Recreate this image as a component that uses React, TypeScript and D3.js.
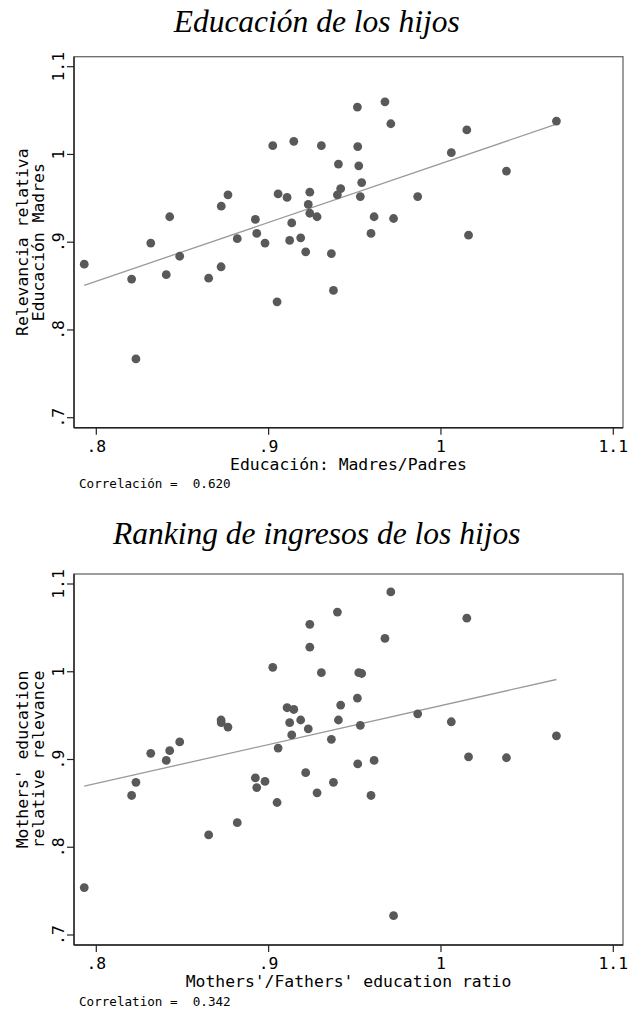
import React from 'react';
import * as d3 from 'd3';

// Mothers'/Fathers' education ratio (same countries in both panels)
const ratio = [
  0.793, 0.8205, 0.823, 0.8316, 0.8406, 0.8426, 0.8484, 0.8652, 0.8724, 0.8725,
  0.8764, 0.8818, 0.8923, 0.8931, 0.8979, 0.9024, 0.9049, 0.9055, 0.9107, 0.9122,
  0.9134, 0.9146, 0.9186, 0.9215, 0.923, 0.9239, 0.9239, 0.9281, 0.9306, 0.9364,
  0.9376, 0.9405, 0.9418, 0.9399, 0.9515, 0.9517, 0.9523, 0.954, 0.9532, 0.9594,
  0.9612, 0.9675, 0.9709, 0.9725, 0.9865, 1.006, 1.015, 1.016, 1.038, 1.067,
];

// relevancia relativa, educación de los hijos
const eduRelevance = [
  0.875, 0.858, 0.767, 0.899, 0.863, 0.929, 0.884, 0.859, 0.872, 0.941,
  0.954, 0.904, 0.926, 0.91, 0.899, 1.01, 0.832, 0.955, 0.951, 0.902,
  0.922, 1.015, 0.905, 0.889, 0.943, 0.957, 0.933, 0.929, 1.01, 0.887,
  0.845, 0.989, 0.961, 0.954, 1.054, 1.009, 0.987, 0.968, 0.952, 0.91,
  0.929, 1.06, 1.035, 0.927, 0.952, 1.002, 1.028, 0.908, 0.981, 1.038,
];

// relative relevance, income ranking of the children
const incomeRelevance = [
  0.754, 0.859, 0.874, 0.907, 0.899, 0.91, 0.92, 0.814, 0.945, 0.942,
  0.937, 0.828, 0.879, 0.868, 0.875, 1.005, 0.851, 0.913, 0.959, 0.942,
  0.928, 0.957, 0.945, 0.885, 0.935, 1.054, 1.028, 0.862, 0.999, 0.923,
  0.874, 0.945, 0.962, 1.068, 0.97, 0.895, 0.999, 0.998, 0.939, 0.859,
  0.899, 1.038, 1.091, 0.722, 0.952, 0.943, 1.061, 0.903, 0.902, 0.927,
];

const xTicks = [0.8, 0.9, 1, 1.1];
const yTicks = [0.7, 0.8, 0.9, 1, 1.1];

const fmt = (v: number) => (v < 1 ? String(v).replace(/^0/, '') : String(v));

const MONO = '"DejaVu Sans Mono", monospace';
const SERIF = '"Liberation Serif", "Times New Roman", serif';

const plotLeft = 74;
const plotRight = 623;
const plotH = 371;

interface PanelProps {
  title: string;
  titleY: number;
  plotTop: number;
  yLines: string[];
  xLabel: string;
  corr: string;
  xs: number[];
  ys: number[];
}

function Panel({ title, titleY, plotTop, yLines, xLabel, corr, xs, ys }: PanelProps) {
  const plotBottom = plotTop + plotH;
  const x = d3.scaleLinear().domain([0.8, 1.1]).range([96.3, 613.3]);
  const y = d3.scaleLinear().domain([0.7, 1.1]).range([plotBottom - 10, plotTop + 10]);

  // OLS fit
  const mx = d3.mean(xs)!;
  const my = d3.mean(ys)!;
  const sxy = d3.sum(xs, (v, i) => (v - mx) * (ys[i] - my));
  const sxx = d3.sum(xs, v => (v - mx) ** 2);
  const b = sxy / sxx;
  const a = my - b * mx;
  const [x0, x1] = d3.extent(xs) as [number, number];
  const midY = (plotTop + plotBottom) / 2;

  return (
    <g>
      <text x={316.7} y={titleY} textAnchor="middle" fontFamily={SERIF} fontStyle="italic" fontSize={31.5} fill="#000">
        {title}
      </text>
      <rect x={plotLeft} y={plotTop} width={plotRight - plotLeft} height={plotH} fill="#fff" stroke="#6a6a6a" strokeWidth={1.3} />
      <line x1={plotLeft} x2={plotLeft} y1={plotTop} y2={plotBottom} stroke="#222" strokeWidth={1.4} />
      <line x1={plotLeft} x2={plotRight} y1={plotBottom} y2={plotBottom} stroke="#222" strokeWidth={1.4} />

      {yTicks.map(t => (
        <g key={'y' + t}>
          <line x1={plotLeft - 7} x2={plotLeft} y1={y(t)} y2={y(t)} stroke="#222" strokeWidth={1.2} />
          <text transform={`translate(63.5,${y(t)}) rotate(-90)`} textAnchor="middle" fontFamily={MONO} fontSize={16.4} fill="#000">
            {fmt(t)}
          </text>
        </g>
      ))}
      {xTicks.map(t => (
        <g key={'x' + t}>
          <line x1={x(t)} x2={x(t)} y1={plotBottom} y2={plotBottom + 7} stroke="#222" strokeWidth={1.2} />
          <text x={x(t)} y={plotBottom + 24.3} textAnchor="middle" fontFamily={MONO} fontSize={16.4} fill="#000">
            {fmt(t)}
          </text>
        </g>
      ))}

      {yLines.map((l, i) => (
        <text key={l} transform={`translate(${27.5 + i * 16.5},${midY}) rotate(-90)`} textAnchor="middle" fontFamily={MONO} fontSize={16.4} fill="#000">
          {l}
        </text>
      ))}
      <text x={(plotLeft + plotRight) / 2} y={plotBottom + 42} textAnchor="middle" fontFamily={MONO} fontSize={16.4} fill="#000">
        {xLabel}
      </text>
      <text x={79} y={plotBottom + 60.5} fontFamily={MONO} fontSize={12.6} fill="#000" style={{ whiteSpace: 'pre' }}>
        {corr}
      </text>

      <line x1={x(x0)} x2={x(x1)} y1={y(a + b * x0)} y2={y(a + b * x1)} stroke="#9a9a9a" strokeWidth={1.3} />
      {xs.map((v, i) => (
        <circle key={i} cx={x(v)} cy={y(ys[i])} r={4.4} fill="#595959" />
      ))}
    </g>
  );
}

export default function App() {
  return (
    <svg width={628} height={1010} style={{ position: 'absolute', left: 0, top: 0, background: '#fff' }}>
      <rect width={628} height={1010} fill="#fff" />
      <Panel
        title="Educación de los hijos"
        titleY={32}
        plotTop={56.7}
        yLines={['Relevancia relativa', 'Educación Madres']}
        xLabel="Educación: Madres/Padres"
        corr="Correlación =  0.620"
        xs={ratio}
        ys={eduRelevance}
      />
      <Panel
        title="Ranking de ingresos de los hijos"
        titleY={544}
        plotTop={574}
        yLines={["Mothers' education", 'relative relevance']}
        xLabel="Mothers'/Fathers' education ratio"
        corr="Correlation =  0.342"
        xs={ratio}
        ys={incomeRelevance}
      />
    </svg>
  );
}
